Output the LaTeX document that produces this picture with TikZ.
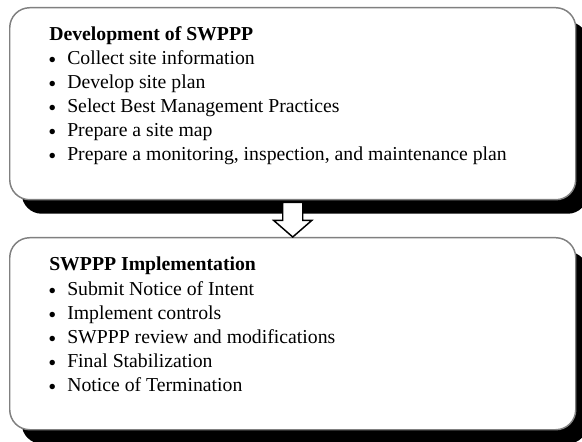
\documentclass[tikz,border=0pt]{standalone}
\usepackage{fontspec}
\setmainfont{Liberation Serif}
\usetikzlibrary{shadows,calc}

\tikzset{
  panel/.style={draw=black!50, line width=1.1pt, fill=white,
    rounded corners=15pt, minimum width=424.5pt, minimum height=144pt,
    anchor=north west, inner sep=0pt,
    drop shadow={shadow xshift=9pt, shadow yshift=-10.5pt, fill=black, opacity=1}},
  txt/.style={anchor=base west, inner sep=0pt, font=\fontsize{14.8}{18}\selectfont},
  dot/.style={anchor=base west, inner sep=0pt, font=\fontsize{17}{17}\selectfont},
  head/.style={txt, font=\fontsize{14.8}{18}\selectfont\bfseries},
  blockarrow/.style={draw=black, line width=1.1pt, fill=white, line join=miter}
}

\begin{document}
\begin{tikzpicture}[x=0.75pt, y=-0.75pt]
  \useasboundingbox (0,0) rectangle (582,442);

  % the two stages
  \node[panel] (dev) at (9,7) {};
  \node[panel] (impl) at (9,237) {};

  % hollow block arrow from the first stage to the second
  \draw[blockarrow]
    ($(dev.south)+(-10,2)$) coordinate (s1)
    -- ($(dev.south)+(10,2)$) coordinate (s2)
    -- ($(dev.south)+(10,20)$) coordinate (s3)
    -- ($(dev.south)+(19,20)$) coordinate (s4)
    -- (impl.north) coordinate (tip)
    -- ($(dev.south)+(-19,20)$) coordinate (s5)
    -- ($(dev.south)+(-10,20)$) coordinate (s6)
    -- cycle;

  % text of the first stage
  \node[head] (t1) at (49,41) {Development of SWPPP};
  \foreach \i/\t in {1/Collect site information,
                     2/Develop site plan,
                     3/Select Best Management Practices,
                     4/Prepare a site map,
                     5/{Prepare a monitoring, inspection, and maintenance plan}} {
    \node[dot] (b1\i) at (48,44+24*\i) {•};
    \node[txt] (l1\i) at (67,41+24*\i) {\t};
  }

  % text of the second stage
  \node[head] (t2) at (49,271) {SWPPP Implementation};
  \foreach \i/\t in {1/Submit Notice of Intent,
                     2/Implement controls,
                     3/SWPPP review and modifications,
                     4/Final Stabilization,
                     5/Notice of Termination} {
    \node[dot] (b2\i) at (48,274+24*\i) {•};
    \node[txt] (l2\i) at (67,271+24*\i) {\t};
  }
\end{tikzpicture}
\end{document}
